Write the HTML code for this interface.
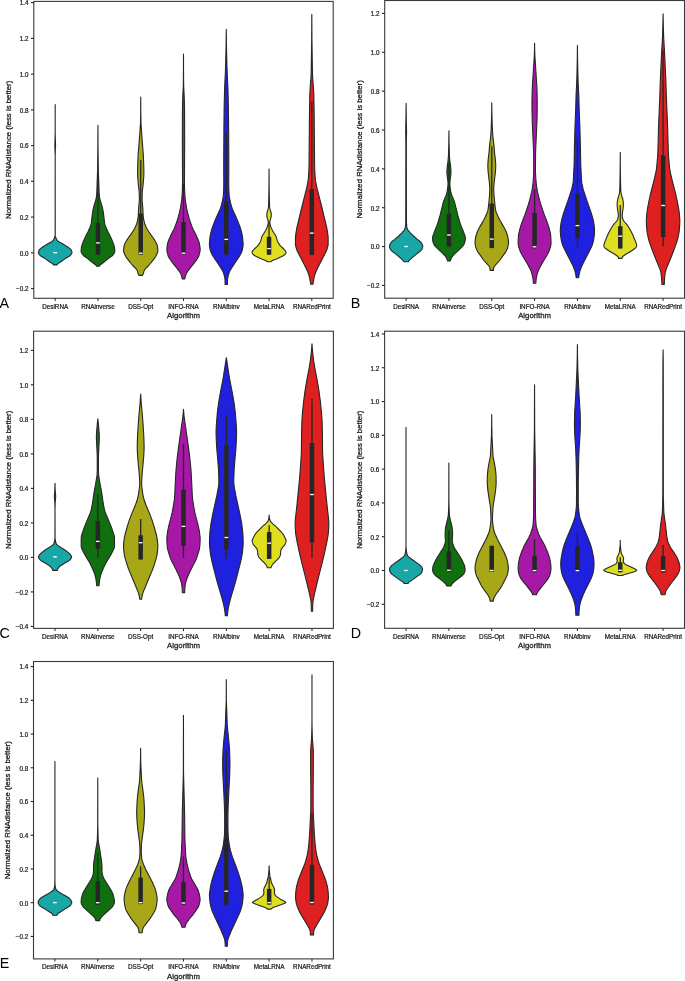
<!DOCTYPE html>
<html><head><meta charset="utf-8"><style>
html,body{margin:0;padding:0;background:#fff;}
svg{display:block;}
text{font-family:"Liberation Sans",sans-serif;fill:#1a1a1a;}
svg{will-change:transform;}
.tk{font-size:6.3px;stroke:#1a1a1a;stroke-width:0.22px;}
.al{font-size:7.8px;stroke:#1a1a1a;stroke-width:0.28px;}
.lt{font-size:14.3px;fill:#000;}
</style></head><body>
<svg width="685" height="981" viewBox="0 0 685 981">
<rect width="685" height="981" fill="#fff"/>
<path d="M55.19 104.6 55.19 133.8 55.54 145 55.19 155.8 55.22 236.2 55.64 237 56.09 238.2 56.64 239.4 57.1 240.2 57.72 241 58.8 241.8 62.52 243.8 66.51 246.2 67.72 247 69.9 248.6 70.76 249.4 71.04 249.8 71.75 251.4 71.95 252.2 71.98 252.6 71.95 253 71.6 253.8 70.97 254.6 69.83 255.8 68.73 256.6 65.24 258.6 60.14 262.2 58.25 263.4 57.71 263.8 57.31 264.2 56.94 264.9 53.44 264.9 53.06 264.2 52.66 263.8 52.12 263.4 50.23 262.2 45.13 258.6 41.64 256.6 40.54 255.8 39.4 254.6 38.77 253.8 38.42 253 38.39 252.6 38.42 252.2 38.62 251.4 39.34 249.8 39.61 249.4 40.47 248.6 42.65 247 43.86 246.2 47.85 243.8 51.57 241.8 52.65 241 53.27 240.2 53.73 239.4 54.28 238.2 54.74 237 55.15 236.2 55.19 155.8 54.84 145 55.18 133.8 55.19 104.6Z" fill="#18a7a7" stroke="#262626" stroke-width="1.1" stroke-linejoin="round"/>
<rect x="53.34" y="252.05" width="3.7" height="1.3" fill="#ffffff"/>
<path d="M97.96 125.2 98.05 148 98.32 170.8 98.7 180 99.03 190.8 99.23 194 99.5 196.8 100.1 200 101.52 204.4 102.4 207.6 102.96 210 103.51 213.6 104.45 222 104.64 223.2 104.93 224.4 105.61 226.4 106.92 229.6 107.67 231.2 109.52 234.8 111.41 238.8 112.27 240.8 113.69 244.4 114.21 246 114.47 247.2 114.72 249.6 114.8 251.2 114.75 252 114.45 252.8 113.72 254 112.81 255.2 111.91 256 108.59 258.4 103.11 262.8 100.41 264.8 99.63 265.6 99.31 266.3 96.61 266.3 96.28 265.6 95.51 264.8 92.81 262.8 87.32 258.4 84.01 256 83.11 255.2 82.19 254 81.46 252.8 81.17 252 81.11 251.2 81.19 249.6 81.45 247.2 81.7 246 82.23 244.4 83.64 240.8 84.51 238.8 86.4 234.8 88.24 231.2 89 229.6 90.3 226.4 90.98 224.4 91.27 223.2 91.46 222 92.4 213.6 92.96 210 93.52 207.6 94.39 204.4 95.81 200 96.41 196.8 96.69 194 96.89 190.8 97.21 180 97.59 170.8 97.86 148 97.96 125.2Z" fill="#107010" stroke="#262626" stroke-width="1.1" stroke-linejoin="round"/>
<line x1="97.96" y1="177" x2="97.96" y2="254.6" stroke="#262626" stroke-width="1.3"/>
<rect x="95.71" y="223" width="4.5" height="31.6" fill="#262626"/>
<rect x="96.11" y="242.25" width="3.7" height="1.3" fill="#ffffff"/>
<path d="M140.73 97.1 140.8 112.7 140.96 122.7 141.62 133.1 143.31 154.7 143.6 161.1 143.83 168.3 143.88 173.1 143.76 176.7 143.11 184.7 142.33 191.1 142.09 197.9 142.15 201.1 142.81 207.9 143.13 214.7 143.32 217.1 143.78 219.9 144.56 223.1 145.27 225.1 146.58 227.9 147.42 229.5 148.68 231.5 151.13 235.1 153.47 238.3 154.55 239.9 156.13 242.7 156.72 243.9 157.16 245.1 157.41 246.3 157.72 248.3 157.88 250.3 157.79 251.5 157.46 252.7 156.23 255.5 155.58 256.7 154.77 257.9 152.68 260.7 150.43 263.5 148.71 265.5 145.86 268.3 144.84 269.5 144.38 270.3 144.05 271.1 143.05 274.3 142.58 275.4 138.88 275.4 138.41 274.3 137.41 271.1 137.08 270.3 136.62 269.5 135.6 268.3 132.75 265.5 131.03 263.5 128.78 260.7 126.69 257.9 125.88 256.7 125.22 255.5 124 252.7 123.67 251.5 123.58 250.3 123.73 248.3 124.05 246.3 124.3 245.1 124.73 243.9 125.33 242.7 126.91 239.9 127.99 238.3 130.33 235.1 132.78 231.5 134.03 229.5 134.88 227.9 136.19 225.1 136.9 223.1 137.68 219.9 138.14 217.1 138.33 214.7 138.65 207.9 139.3 201.1 139.37 197.9 139.12 191.1 138.34 184.7 137.7 176.7 137.58 173.1 137.63 168.3 137.86 161.1 138.15 154.7 139.83 133.1 140.5 122.7 140.66 112.7 140.73 97.1Z" fill="#a7a718" stroke="#262626" stroke-width="1.1" stroke-linejoin="round"/>
<line x1="140.73" y1="160" x2="140.73" y2="254.6" stroke="#262626" stroke-width="1.3"/>
<rect x="138.48" y="213.5" width="4.5" height="41.1" fill="#262626"/>
<rect x="138.88" y="252.55" width="3.7" height="1.3" fill="#ffffff"/>
<path d="M183.5 54 183.54 70.4 183.66 85.6 184.14 94.8 184.42 103.2 184.54 108.8 184.65 142 184.45 182.8 184.6 189.2 185.01 196.8 185.57 201.6 186.58 208 187.56 212.4 189.01 218 190.52 222.8 192.38 227.6 193.45 230 196.33 235.6 197.94 239.2 198.73 241.2 199.22 242.8 199.76 245.6 200.04 247.6 200.15 249.6 200.02 251.2 199.62 253.2 198.82 256 198.27 257.2 197.3 258.8 194.75 262.4 190.88 267.2 188.09 270.8 186.97 272.4 186.32 273.6 185.58 275.6 185.12 277.2 184.85 278.9 182.15 278.9 181.88 277.2 181.42 275.6 180.68 273.6 180.03 272.4 178.91 270.8 176.12 267.2 172.25 262.4 169.7 258.8 168.73 257.2 168.18 256 167.38 253.2 166.98 251.2 166.85 249.6 166.96 247.6 167.24 245.6 167.78 242.8 168.27 241.2 169.06 239.2 170.67 235.6 173.55 230 174.62 227.6 176.48 222.8 177.99 218 179.44 212.4 180.42 208 181.43 201.6 181.99 196.8 182.4 189.2 182.55 182.8 182.35 142 182.46 108.8 182.58 103.2 182.86 94.8 183.34 85.6 183.46 70.4 183.5 54Z" fill="#a718a7" stroke="#262626" stroke-width="1.1" stroke-linejoin="round"/>
<line x1="183.5" y1="184" x2="183.5" y2="254.4" stroke="#262626" stroke-width="1.3"/>
<rect x="181.25" y="222" width="4.5" height="32.4" fill="#262626"/>
<rect x="181.65" y="252.55" width="3.7" height="1.3" fill="#ffffff"/>
<path d="M226.27 29.4 226.45 45 226.93 65.8 227.15 71.8 227.95 88.6 228.4 108.2 228.63 127.4 228.79 156.2 228.82 168.2 228.73 183.8 228.85 189.4 229.1 195 229.48 197.8 230.5 202.6 231.23 205.4 232.11 208.2 233.02 210.6 235.69 216.2 237.73 221 240.01 227 241.06 230.2 242.02 234.2 242.54 237 242.98 241.4 243.12 244.6 242.98 246.6 242.53 249 241.92 251.4 241.25 253 240.37 254.6 237.67 259 234.1 264.2 230.72 269.4 229.82 271 229.28 272.2 228.31 275.4 227.71 278.2 227.52 280.2 227.42 284.4 225.12 284.4 225.03 280.2 224.83 278.2 224.23 275.4 223.26 272.2 222.73 271 221.82 269.4 218.45 264.2 214.87 259 212.17 254.6 211.3 253 210.63 251.4 210.01 249 209.57 246.6 209.42 244.6 209.56 241.4 210.01 237 210.52 234.2 211.49 230.2 212.53 227 214.81 221 216.85 216.2 219.53 210.6 220.43 208.2 221.31 205.4 222.04 202.6 223.06 197.8 223.44 195 223.69 189.4 223.81 183.8 223.72 168.2 223.75 156.2 223.92 127.4 224.14 108.2 224.6 88.6 225.39 71.8 225.61 65.8 226.1 45 226.27 29.4Z" fill="#2020df" stroke="#262626" stroke-width="1.1" stroke-linejoin="round"/>
<line x1="226.27" y1="133" x2="226.27" y2="254.6" stroke="#262626" stroke-width="1.3"/>
<rect x="224.02" y="201.6" width="4.5" height="53" fill="#262626"/>
<rect x="224.42" y="238.75" width="3.7" height="1.3" fill="#ffffff"/>
<path d="M269.04 169 269.16 188.6 269.51 205.4 269.69 207.4 270.01 209.4 270.85 211.8 271.16 213.4 271.29 214.6 271.2 216.2 270.85 218.2 270.2 220.2 269.82 221.8 269.84 223 270.11 224.6 270.44 225.8 271.03 227.4 272.13 229.8 273.42 232.2 275.31 235 275.95 236.2 276.36 237.4 277.11 240.2 277.59 241.4 278.2 242.6 279.19 244.2 280.39 245.8 283.8 249 285.11 250.6 285.71 251.4 285.92 251.8 286.06 252.2 286.09 252.6 285.99 253 285.47 253.8 284.23 255 283.22 255.8 281.76 256.6 276.42 259 272.44 260.6 271.66 261 271.09 261.4 270.79 261.8 267.29 261.8 266.99 261.4 266.43 261 265.65 260.6 261.66 259 256.33 256.6 254.86 255.8 253.86 255 252.62 253.8 252.1 253 252 252.6 252.03 252.2 252.16 251.8 252.38 251.4 252.97 250.6 254.29 249 257.7 245.8 258.9 244.2 259.89 242.6 260.5 241.4 260.97 240.2 261.72 237.4 262.13 236.2 262.78 235 264.66 232.2 265.96 229.8 267.05 227.4 267.65 225.8 267.97 224.6 268.24 223 268.26 221.8 267.89 220.2 267.23 218.2 266.89 216.2 266.8 214.6 266.93 213.4 267.24 211.8 268.07 209.4 268.39 207.4 268.58 205.4 268.93 188.6 269.04 169Z" fill="#dfdf20" stroke="#262626" stroke-width="1.1" stroke-linejoin="round"/>
<line x1="269.04" y1="221.5" x2="269.04" y2="254.7" stroke="#262626" stroke-width="1.3"/>
<rect x="266.79" y="236.8" width="4.5" height="17.9" fill="#262626"/>
<rect x="267.19" y="247.95" width="3.7" height="1.3" fill="#ffffff"/>
<path d="M311.81 14.3 311.97 41.9 312.43 71.1 312.64 77.1 313.59 89.9 313.86 95.5 314.19 116.7 314.57 164.7 314.76 170.7 315.13 176.7 315.36 179.5 315.65 181.5 317.11 188.7 321.39 205.5 326.72 227.5 327.1 229.5 327.84 234.3 328.07 236.3 328.16 238.3 328.15 244.7 327.89 246.3 327.3 248.3 326.48 250.7 325.79 252.3 322.77 257.9 319.27 264.7 316.61 270.3 315.56 272.7 314.83 274.7 314.19 277.1 313.55 280.3 312.96 284.2 310.66 284.2 310.07 280.3 309.43 277.1 308.8 274.7 308.07 272.7 307.02 270.3 304.36 264.7 300.86 257.9 297.84 252.3 297.15 250.7 296.33 248.3 295.74 246.3 295.48 244.7 295.47 238.3 295.56 236.3 295.79 234.3 296.53 229.5 296.91 227.5 302.24 205.5 306.52 188.7 307.98 181.5 308.27 179.5 308.5 176.7 308.87 170.7 309.06 164.7 309.44 116.7 309.77 95.5 310.04 89.9 310.99 77.1 311.2 71.1 311.66 41.9 311.81 14.3Z" fill="#df2020" stroke="#262626" stroke-width="1.1" stroke-linejoin="round"/>
<line x1="311.81" y1="101.3" x2="311.81" y2="254.9" stroke="#262626" stroke-width="1.3"/>
<rect x="309.56" y="189.2" width="4.5" height="65.7" fill="#262626"/>
<rect x="309.96" y="232.45" width="3.7" height="1.3" fill="#ffffff"/>
<rect x="33.8" y="1.4" width="299.4" height="296.9" fill="none" stroke="#3a3a3a" stroke-width="1.1"/>
<line x1="31" y1="288.6" x2="33.8" y2="288.6" stroke="#222" stroke-width="1.1"/>
<text x="28.5" y="291.4" class="tk" text-anchor="end">−0.2</text>
<line x1="31" y1="252.85" x2="33.8" y2="252.85" stroke="#222" stroke-width="1.1"/>
<text x="28.5" y="255.65" class="tk" text-anchor="end">0.0</text>
<line x1="31" y1="217.1" x2="33.8" y2="217.1" stroke="#222" stroke-width="1.1"/>
<text x="28.5" y="219.9" class="tk" text-anchor="end">0.2</text>
<line x1="31" y1="181.35" x2="33.8" y2="181.35" stroke="#222" stroke-width="1.1"/>
<text x="28.5" y="184.15" class="tk" text-anchor="end">0.4</text>
<line x1="31" y1="145.6" x2="33.8" y2="145.6" stroke="#222" stroke-width="1.1"/>
<text x="28.5" y="148.4" class="tk" text-anchor="end">0.6</text>
<line x1="31" y1="109.85" x2="33.8" y2="109.85" stroke="#222" stroke-width="1.1"/>
<text x="28.5" y="112.65" class="tk" text-anchor="end">0.8</text>
<line x1="31" y1="74.1" x2="33.8" y2="74.1" stroke="#222" stroke-width="1.1"/>
<text x="28.5" y="76.9" class="tk" text-anchor="end">1.0</text>
<line x1="31" y1="38.35" x2="33.8" y2="38.35" stroke="#222" stroke-width="1.1"/>
<text x="28.5" y="41.15" class="tk" text-anchor="end">1.2</text>
<line x1="31" y1="2.6" x2="33.8" y2="2.6" stroke="#222" stroke-width="1.1"/>
<text x="28.5" y="5.4" class="tk" text-anchor="end">1.4</text>
<line x1="55.19" y1="298.3" x2="55.19" y2="300.9" stroke="#222" stroke-width="1.0"/>
<text x="55.19" y="308.7" class="tk" text-anchor="middle">DesiRNA</text>
<line x1="97.96" y1="298.3" x2="97.96" y2="300.9" stroke="#222" stroke-width="1.0"/>
<text x="97.96" y="308.7" class="tk" text-anchor="middle">RNAinverse</text>
<line x1="140.73" y1="298.3" x2="140.73" y2="300.9" stroke="#222" stroke-width="1.0"/>
<text x="140.73" y="308.7" class="tk" text-anchor="middle">DSS-Opt</text>
<line x1="183.5" y1="298.3" x2="183.5" y2="300.9" stroke="#222" stroke-width="1.0"/>
<text x="183.5" y="308.7" class="tk" text-anchor="middle">INFO-RNA</text>
<line x1="226.27" y1="298.3" x2="226.27" y2="300.9" stroke="#222" stroke-width="1.0"/>
<text x="226.27" y="308.7" class="tk" text-anchor="middle">RNAfbinv</text>
<line x1="269.04" y1="298.3" x2="269.04" y2="300.9" stroke="#222" stroke-width="1.0"/>
<text x="269.04" y="308.7" class="tk" text-anchor="middle">MetaLRNA</text>
<line x1="311.81" y1="298.3" x2="311.81" y2="300.9" stroke="#222" stroke-width="1.0"/>
<text x="311.81" y="308.7" class="tk" text-anchor="middle">RNARedPrint</text>
<text x="183.5" y="318.1" class="al" text-anchor="middle">Algorithm</text>
<text transform="translate(10.7 149.85) rotate(-90)" class="al" text-anchor="middle">Normalized RNAdistance (less is better)</text>
<text x="-0.5" y="307.5" class="lt">A</text>
<path d="M406.11 103.2 406.3 119.2 406.56 131.6 406.36 140 406.4 196.8 406.47 222.4 406.56 224.4 406.73 226.4 406.94 227.6 407.26 228.8 407.92 230 408.83 231.2 410.54 233.2 413.49 236 417.72 239.6 419.8 241.2 420.72 242 421.36 242.8 422.24 244.4 422.67 245.6 422.76 246.4 422.67 247.2 422.41 248 421.83 249.2 421.07 250.4 420.22 251.2 416.94 253.6 410.79 258.8 409.94 259.6 408.85 260.8 408.57 261.2 408.36 261.7 403.86 261.7 403.66 261.2 403.38 260.8 402.29 259.6 401.44 258.8 395.29 253.6 392.01 251.2 391.16 250.4 390.4 249.2 389.81 248 389.56 247.2 389.46 246.4 389.56 245.6 389.99 244.4 390.86 242.8 391.51 242 392.42 241.2 394.51 239.6 398.74 236 401.69 233.2 403.4 231.2 404.31 230 404.96 228.8 405.29 227.6 405.5 226.4 405.67 224.4 405.76 222.4 405.83 196.8 405.86 140 405.67 131.6 405.93 119.2 406.11 103.2Z" fill="#18a7a7" stroke="#262626" stroke-width="1.1" stroke-linejoin="round"/>
<rect x="404.26" y="245.85" width="3.7" height="1.3" fill="#ffffff"/>
<path d="M448.94 130.7 449.07 143.1 449.43 155.9 449.92 161.5 450.58 165.9 450.87 169.1 450.98 171.1 450.98 172.7 450.88 174.3 450.53 177.5 450.03 180.7 449.91 183.1 449.94 185.5 450.39 189.5 450.84 191.9 451.45 194.3 452.06 195.9 453.8 199.9 454.46 201.9 455.11 204.3 457.88 215.5 459.58 221.5 460.79 225.1 462.77 229.9 464.7 235.1 465.17 236.7 465.39 238.3 465.29 239.9 464.95 241.5 464.19 243.9 464.03 244.3 463.55 245.1 462.93 245.9 461.79 247.1 457.69 251.1 454.65 253.9 453.15 255.5 451.74 257.5 451.05 258.7 450.59 259.9 450.39 261 447.49 261 447.29 259.9 446.84 258.7 446.15 257.5 444.74 255.5 443.24 253.9 440.2 251.1 436.1 247.1 434.96 245.9 434.33 245.1 433.86 244.3 433.69 243.9 432.93 241.5 432.6 239.9 432.5 238.3 432.71 236.7 433.19 235.1 435.12 229.9 437.09 225.1 438.3 221.5 440.01 215.5 442.77 204.3 443.42 201.9 444.08 199.9 445.83 195.9 446.43 194.3 447.04 191.9 447.49 189.5 447.94 185.5 447.98 183.1 447.85 180.7 447.35 177.5 447.01 174.3 446.91 172.7 446.91 171.1 447.02 169.1 447.3 165.9 447.97 161.5 448.45 155.9 448.82 143.1 448.94 130.7Z" fill="#107010" stroke="#262626" stroke-width="1.1" stroke-linejoin="round"/>
<line x1="448.94" y1="163.4" x2="448.94" y2="246.5" stroke="#262626" stroke-width="1.3"/>
<rect x="446.69" y="213.6" width="4.5" height="32.9" fill="#262626"/>
<rect x="447.09" y="234.35" width="3.7" height="1.3" fill="#ffffff"/>
<path d="M491.77 102.9 491.83 109.7 492 117.7 492.27 126.5 492.58 132.5 492.94 137.3 493.91 144.9 494.64 153.7 495.36 159.3 495.69 164.5 495.69 167.7 495.38 172.5 494.16 182.5 493.83 186.5 493.72 188.9 493.77 191.3 494.04 195.7 494.7 202.9 495.14 206.9 495.48 209.3 495.79 210.9 496.17 212.1 496.67 213.3 498.28 216.9 499.68 219.7 500.96 222.1 503.31 226.1 505 229.3 505.94 231.3 506.72 233.3 507.41 235.3 507.8 236.9 508.33 240.1 508.52 242.5 508.5 243.3 508.36 244.5 507.63 247.7 507.04 249.3 505.87 251.7 505.1 252.9 502.65 256.1 500.51 259.3 499.62 260.5 496.67 263.7 494.28 266.5 493.84 267.3 493.72 267.7 493.48 269.3 493.42 270.4 490.12 270.4 490.06 269.3 489.82 267.7 489.71 267.3 489.27 266.5 486.87 263.7 483.92 260.5 483.03 259.3 480.89 256.1 478.44 252.9 477.68 251.7 476.5 249.3 475.91 247.7 475.18 244.5 475.04 243.3 475.02 242.5 475.21 240.1 475.74 236.9 476.14 235.3 476.82 233.3 477.61 231.3 478.55 229.3 480.24 226.1 482.58 222.1 483.86 219.7 485.26 216.9 486.88 213.3 487.37 212.1 487.75 210.9 488.07 209.3 488.4 206.9 488.84 202.9 489.51 195.7 489.77 191.3 489.82 188.9 489.71 186.5 489.39 182.5 488.16 172.5 487.86 167.7 487.85 164.5 488.18 159.3 488.9 153.7 489.63 144.9 490.6 137.3 490.97 132.5 491.27 126.5 491.54 117.7 491.72 109.7 491.77 102.9Z" fill="#a7a718" stroke="#262626" stroke-width="1.1" stroke-linejoin="round"/>
<line x1="491.77" y1="146.6" x2="491.77" y2="248.1" stroke="#262626" stroke-width="1.3"/>
<rect x="489.52" y="203.5" width="4.5" height="44.6" fill="#262626"/>
<rect x="489.92" y="238.45" width="3.7" height="1.3" fill="#ffffff"/>
<path d="M534.6 43.3 534.67 48.9 534.9 56.1 536.86 86.5 537.1 94.5 537.23 101.7 537.21 110.5 536.9 123.3 535.72 148.5 535.56 153.7 535.46 171.3 535.58 174.5 536.03 181.3 536.47 185.7 537.18 190.1 538.09 194.5 539.54 200.1 540.98 204.9 542.82 210.5 544.38 214.9 546.53 220.5 548.36 225.7 549.09 228.1 549.91 231.3 550.44 233.7 550.72 235.7 550.96 239.7 551.05 242.9 550.99 244.5 550.61 246.5 549.87 248.9 549.18 250.9 548.68 252.1 547.4 254.5 541.43 264.5 539.13 268.9 538.06 271.3 537.64 272.5 537.19 274.1 536.45 277.3 536.09 279.7 535.85 283.2 533.35 283.2 533.11 279.7 532.75 277.3 532.01 274.1 531.56 272.5 531.14 271.3 530.07 268.9 527.77 264.5 521.8 254.5 520.52 252.1 520.02 250.9 519.33 248.9 518.59 246.5 518.21 244.5 518.15 242.9 518.24 239.7 518.48 235.7 518.76 233.7 519.29 231.3 520.11 228.1 520.84 225.7 522.67 220.5 524.82 214.9 526.38 210.5 528.22 204.9 529.66 200.1 531.11 194.5 532.02 190.1 532.73 185.7 533.17 181.3 533.62 174.5 533.74 171.3 533.64 153.7 533.48 148.5 532.3 123.3 531.99 110.5 531.97 101.7 532.1 94.5 532.34 86.5 534.3 56.1 534.53 48.9 534.6 43.3Z" fill="#a718a7" stroke="#262626" stroke-width="1.1" stroke-linejoin="round"/>
<line x1="534.6" y1="189" x2="534.6" y2="248.3" stroke="#262626" stroke-width="1.3"/>
<rect x="532.35" y="212.8" width="4.5" height="35.5" fill="#262626"/>
<rect x="532.75" y="246.15" width="3.7" height="1.3" fill="#ffffff"/>
<path d="M577.43 45.4 577.58 59.4 577.94 76.2 578.23 84.2 578.76 94.6 579.19 109.8 579.85 126.2 580.41 147 580.75 164.6 581.3 176.6 581.63 181.4 581.81 183 582.18 185 582.93 188.2 583.37 189.8 586.75 200.2 590.72 211.4 592 215.4 592.68 217.8 593.52 221.4 593.96 223.8 594.42 227.8 594.58 230.6 594.43 233.8 593.92 238.2 593.3 241.4 592.54 244.2 591.75 246.2 589.71 250.6 584.28 261 582.28 265 581.38 267 580.33 269.8 579.73 271.8 579.05 275 578.68 277.8 576.18 277.8 575.81 275 575.13 271.8 574.53 269.8 573.48 267 572.58 265 570.58 261 565.14 250.6 563.11 246.2 562.32 244.2 561.55 241.4 560.94 238.2 560.43 233.8 560.28 230.6 560.44 227.8 560.9 223.8 561.34 221.4 562.18 217.8 562.86 215.4 564.14 211.4 568.11 200.2 571.48 189.8 571.93 188.2 572.68 185 573.04 183 573.23 181.4 573.56 176.6 574.11 164.6 574.44 147 575.01 126.2 575.67 109.8 576.09 94.6 576.63 84.2 576.92 76.2 577.28 59.4 577.43 45.4Z" fill="#2020df" stroke="#262626" stroke-width="1.1" stroke-linejoin="round"/>
<line x1="577.43" y1="137.3" x2="577.43" y2="247.3" stroke="#262626" stroke-width="1.3"/>
<rect x="575.18" y="193.8" width="4.5" height="44.2" fill="#262626"/>
<rect x="575.58" y="224.95" width="3.7" height="1.3" fill="#ffffff"/>
<path d="M620.26 152.4 620.3 163.2 620.43 174.8 620.63 186 620.82 190.8 620.95 192.4 621.17 193.6 621.67 195.6 622.45 198 622.75 199.2 623.26 202 623.4 203.6 623.37 205.2 623.2 207.2 622.93 209.6 622.48 212.4 622.27 214.4 622.22 216 622.36 217.2 622.73 218.8 623.26 220 623.7 220.8 624.61 222 626.75 224.4 627.9 226 629.92 229.2 631.65 232.4 632.96 235.2 635.88 242.4 636.26 243.6 636.55 244.8 636.71 246 636.63 246.4 636.43 246.8 635.89 247.6 635.52 248 634.56 248.8 630.99 251.2 626.14 254 623.29 256 622.47 256.8 622.24 257.2 622.04 258 622.01 258.4 618.51 258.4 618.47 258 618.27 257.2 618.05 256.8 617.23 256 614.37 254 609.52 251.2 605.95 248.8 605 248 604.63 247.6 604.09 246.8 603.89 246.4 603.81 246 603.96 244.8 604.26 243.6 604.64 242.4 607.56 235.2 608.86 232.4 610.59 229.2 612.61 226 613.77 224.4 615.9 222 616.82 220.8 617.26 220 617.78 218.8 618.15 217.2 618.3 216 618.25 214.4 618.04 212.4 617.58 209.6 617.31 207.2 617.15 205.2 617.11 203.6 617.25 202 617.77 199.2 618.06 198 618.85 195.6 619.34 193.6 619.57 192.4 619.69 190.8 619.89 186 620.08 174.8 620.21 163.2 620.26 152.4Z" fill="#dfdf20" stroke="#262626" stroke-width="1.1" stroke-linejoin="round"/>
<line x1="620.26" y1="205.1" x2="620.26" y2="248.5" stroke="#262626" stroke-width="1.3"/>
<rect x="618.01" y="226.2" width="4.5" height="22.3" fill="#262626"/>
<rect x="618.41" y="235.55" width="3.7" height="1.3" fill="#ffffff"/>
<path d="M663.09 13.8 663.3 25 663.64 36.2 663.84 40.6 664.55 52.2 665.78 78.6 666.4 97.4 667.54 124.2 668.29 151.4 668.43 154.6 668.67 157.8 669.49 167 669.84 169.8 670.18 171.8 672.55 181.8 675.94 195 677.24 201 678.52 207.8 679.02 211 679.49 215.4 679.75 218.6 679.84 221 679.69 225.4 679.23 231 678.73 234.2 677.76 238.6 677.22 240.6 676.58 242.6 674.02 249.8 671.52 256.2 666.43 268.6 665.6 271 665.17 273 664.77 276.2 664.43 280.6 664.24 284.5 661.94 284.5 661.75 280.6 661.4 276.2 661 273 660.57 271 659.74 268.6 654.65 256.2 652.15 249.8 649.59 242.6 648.95 240.6 648.41 238.6 647.45 234.2 646.94 231 646.48 225.4 646.34 221 646.42 218.6 646.68 215.4 647.15 211 647.65 207.8 648.93 201 650.24 195 653.62 181.8 655.99 171.8 656.34 169.8 656.68 167 657.51 157.8 657.74 154.6 657.89 151.4 658.64 124.2 659.77 97.4 660.39 78.6 661.62 52.2 662.33 40.6 662.53 36.2 662.87 25 663.09 13.8Z" fill="#df2020" stroke="#262626" stroke-width="1.1" stroke-linejoin="round"/>
<line x1="663.09" y1="50.5" x2="663.09" y2="246.2" stroke="#262626" stroke-width="1.3"/>
<rect x="660.84" y="155.4" width="4.5" height="81.6" fill="#262626"/>
<rect x="661.24" y="204.85" width="3.7" height="1.3" fill="#ffffff"/>
<rect x="384.7" y="0.5" width="299.8" height="297.7" fill="none" stroke="#3a3a3a" stroke-width="1.1"/>
<line x1="381.9" y1="285.44" x2="384.7" y2="285.44" stroke="#222" stroke-width="1.1"/>
<text x="379.4" y="288.24" class="tk" text-anchor="end">−0.2</text>
<line x1="381.9" y1="246.58" x2="384.7" y2="246.58" stroke="#222" stroke-width="1.1"/>
<text x="379.4" y="249.38" class="tk" text-anchor="end">0.0</text>
<line x1="381.9" y1="207.72" x2="384.7" y2="207.72" stroke="#222" stroke-width="1.1"/>
<text x="379.4" y="210.52" class="tk" text-anchor="end">0.2</text>
<line x1="381.9" y1="168.86" x2="384.7" y2="168.86" stroke="#222" stroke-width="1.1"/>
<text x="379.4" y="171.66" class="tk" text-anchor="end">0.4</text>
<line x1="381.9" y1="130" x2="384.7" y2="130" stroke="#222" stroke-width="1.1"/>
<text x="379.4" y="132.8" class="tk" text-anchor="end">0.6</text>
<line x1="381.9" y1="91.14" x2="384.7" y2="91.14" stroke="#222" stroke-width="1.1"/>
<text x="379.4" y="93.94" class="tk" text-anchor="end">0.8</text>
<line x1="381.9" y1="52.28" x2="384.7" y2="52.28" stroke="#222" stroke-width="1.1"/>
<text x="379.4" y="55.08" class="tk" text-anchor="end">1.0</text>
<line x1="381.9" y1="13.42" x2="384.7" y2="13.42" stroke="#222" stroke-width="1.1"/>
<text x="379.4" y="16.22" class="tk" text-anchor="end">1.2</text>
<line x1="406.11" y1="298.2" x2="406.11" y2="300.8" stroke="#222" stroke-width="1.0"/>
<text x="406.11" y="308.6" class="tk" text-anchor="middle">DesiRNA</text>
<line x1="448.94" y1="298.2" x2="448.94" y2="300.8" stroke="#222" stroke-width="1.0"/>
<text x="448.94" y="308.6" class="tk" text-anchor="middle">RNAinverse</text>
<line x1="491.77" y1="298.2" x2="491.77" y2="300.8" stroke="#222" stroke-width="1.0"/>
<text x="491.77" y="308.6" class="tk" text-anchor="middle">DSS-Opt</text>
<line x1="534.6" y1="298.2" x2="534.6" y2="300.8" stroke="#222" stroke-width="1.0"/>
<text x="534.6" y="308.6" class="tk" text-anchor="middle">INFO-RNA</text>
<line x1="577.43" y1="298.2" x2="577.43" y2="300.8" stroke="#222" stroke-width="1.0"/>
<text x="577.43" y="308.6" class="tk" text-anchor="middle">RNAfbinv</text>
<line x1="620.26" y1="298.2" x2="620.26" y2="300.8" stroke="#222" stroke-width="1.0"/>
<text x="620.26" y="308.6" class="tk" text-anchor="middle">MetaLRNA</text>
<line x1="663.09" y1="298.2" x2="663.09" y2="300.8" stroke="#222" stroke-width="1.0"/>
<text x="663.09" y="308.6" class="tk" text-anchor="middle">RNARedPrint</text>
<text x="534.6" y="318" class="al" text-anchor="middle">Algorithm</text>
<text transform="translate(361.6 149.35) rotate(-90)" class="al" text-anchor="middle">Normalized RNAdistance (less is better)</text>
<text x="350.8" y="307.5" class="lt">B</text>
<path d="M55.01 483.2 55.18 490.4 55.6 494.8 55.66 496.4 55.6 498 55.17 502.8 55.01 509.6 55.06 538 55.15 539.2 55.55 541.6 55.88 542.8 56.36 544 56.63 544.4 57.02 544.8 58.07 545.6 64.87 550 68.09 552.4 69.42 553.6 70.77 555.2 71.31 556 71.48 556.4 71.56 556.8 71.54 557.2 71.43 557.6 71.03 558.4 70.14 559.6 69.79 560 69.31 560.4 68.08 561.2 65.25 562.8 61.3 565.2 60.19 566 59.76 566.4 58.7 567.6 57.87 568.8 57.52 569.6 57.36 570.4 52.66 570.4 52.51 569.6 52.16 568.8 51.33 567.6 50.26 566.4 49.84 566 48.73 565.2 44.78 562.8 41.95 561.2 40.72 560.4 40.24 560 39.89 559.6 39 558.4 38.6 557.6 38.49 557.2 38.47 556.8 38.55 556.4 38.72 556 39.26 555.2 40.6 553.6 41.94 552.4 45.15 550 51.96 545.6 53.01 544.8 53.4 544.4 53.66 544 54.15 542.8 54.47 541.6 54.88 539.2 54.96 538 55.01 509.6 54.86 502.8 54.43 498 54.36 496.4 54.43 494.8 54.85 490.4 55.01 483.2Z" fill="#18a7a7" stroke="#262626" stroke-width="1.1" stroke-linejoin="round"/>
<rect x="53.16" y="556.25" width="3.7" height="1.3" fill="#ffffff"/>
<path d="M97.84 418.7 98.36 423.5 98.94 430.3 99.19 433.9 99.29 436.7 99.24 439.9 98.57 453.1 98.43 459.9 98.43 469.1 98.6 474.3 98.76 475.9 100.01 483.5 101.64 492.3 102.77 500.3 103.42 504.3 104.01 507.5 104.64 510.3 105.09 511.9 105.68 513.5 110.08 523.9 111.63 527.9 113.91 534.7 114.35 536.7 114.49 538.3 114.49 545.9 114.35 547.1 114.02 548.3 113.17 550.3 111.17 554.3 106.99 561.1 105.4 563.9 103.87 567.1 101.67 572.3 100.69 575.1 99.82 578.7 99.29 582.3 98.99 585.8 96.69 585.8 96.4 582.3 95.87 578.7 94.99 575.1 94.01 572.3 91.82 567.1 90.29 563.9 88.7 561.1 84.51 554.3 82.51 550.3 81.67 548.3 81.33 547.1 81.19 545.9 81.19 538.3 81.33 536.7 81.78 534.7 84.06 527.9 85.61 523.9 90 513.5 90.59 511.9 91.05 510.3 91.68 507.5 92.26 504.3 92.91 500.3 94.04 492.3 95.68 483.5 96.92 475.9 97.09 474.3 97.25 469.1 97.26 459.9 97.12 453.1 96.45 439.9 96.4 436.7 96.49 433.9 96.74 430.3 97.32 423.5 97.84 418.7Z" fill="#107010" stroke="#262626" stroke-width="1.1" stroke-linejoin="round"/>
<line x1="97.84" y1="494" x2="97.84" y2="557.7" stroke="#262626" stroke-width="1.3"/>
<rect x="95.59" y="521" width="4.5" height="27.9" fill="#262626"/>
<rect x="95.99" y="540.75" width="3.7" height="1.3" fill="#ffffff"/>
<path d="M140.67 394 141.2 402.4 142.52 416.8 143.05 424 143.83 436.8 144.11 446 144.06 450.4 143.64 457.2 142.89 466 142.21 472.8 141.75 479.6 141.62 484 141.82 486.8 142.43 491.6 142.88 494.4 143.53 497.6 144.18 500 145.82 504.8 149.9 514.4 151.86 519.6 153.81 525.6 156.15 534 156.81 536.8 157.34 540.4 157.69 543.6 157.82 546.4 157.68 549.6 157.25 553.2 156.74 556.4 155.99 559.2 154.12 565.2 152.56 569.6 147.68 581.2 143.09 592.4 142.72 593.6 142.14 596 141.83 597.6 141.62 599.2 139.72 599.2 139.51 597.6 139.2 596 138.62 593.6 138.25 592.4 133.67 581.2 128.79 569.6 127.23 565.2 125.35 559.2 124.6 556.4 124.1 553.2 123.67 549.6 123.52 546.4 123.65 543.6 124.01 540.4 124.54 536.8 125.19 534 127.53 525.6 129.48 519.6 131.44 514.4 135.52 504.8 137.16 500 137.81 497.6 138.46 494.4 138.91 491.6 139.52 486.8 139.72 484 139.6 479.6 139.13 472.8 138.45 466 137.7 457.2 137.28 450.4 137.23 446 137.51 436.8 138.29 424 138.82 416.8 140.14 402.4 140.67 394Z" fill="#a7a718" stroke="#262626" stroke-width="1.1" stroke-linejoin="round"/>
<line x1="140.67" y1="519.1" x2="140.67" y2="559.5" stroke="#262626" stroke-width="1.3"/>
<rect x="138.42" y="535.3" width="4.5" height="24.2" fill="#262626"/>
<rect x="138.82" y="542.05" width="3.7" height="1.3" fill="#ffffff"/>
<path d="M183.5 409.3 183.79 413.3 184.13 416.5 188.68 448.9 189.67 456.9 190.36 463.3 190.86 468.5 191.2 473.3 191.7 482.5 192.31 495.7 192.47 498.1 192.68 500.1 193.95 507.7 194.96 512.9 195.61 515.7 198 524.9 199.06 529.7 199.41 531.7 199.91 535.3 200.08 536.9 200.15 538.5 200.05 542.5 199.74 546.9 199.49 548.5 198.98 550.5 197.44 555.7 196.13 559.3 195.39 560.9 193.5 564.5 191.51 568.5 188.62 574.5 187.75 576.5 186.26 580.5 185.57 582.9 185.04 586.1 184.77 589.3 184.65 592.7 182.35 592.7 182.23 589.3 181.96 586.1 181.43 582.9 180.74 580.5 179.25 576.5 178.38 574.5 175.49 568.5 173.5 564.5 171.61 560.9 170.87 559.3 169.56 555.7 168.02 550.5 167.51 548.5 167.26 546.9 166.95 542.5 166.85 538.5 166.92 536.9 167.09 535.3 167.59 531.7 167.94 529.7 169 524.9 171.39 515.7 172.04 512.9 173.05 507.7 174.32 500.1 174.53 498.1 174.69 495.7 175.3 482.5 175.8 473.3 176.14 468.5 176.64 463.3 177.33 456.9 178.32 448.9 182.87 416.5 183.21 413.3 183.5 409.3Z" fill="#a718a7" stroke="#262626" stroke-width="1.1" stroke-linejoin="round"/>
<line x1="183.5" y1="443.8" x2="183.5" y2="558" stroke="#262626" stroke-width="1.3"/>
<rect x="181.25" y="489.7" width="4.5" height="56.1" fill="#262626"/>
<rect x="181.65" y="525.75" width="3.7" height="1.3" fill="#ffffff"/>
<path d="M226.33 357.7 229.34 377.3 232.85 395.7 234.14 403.3 234.87 408.9 235.44 414.1 236.36 426.1 236.52 429.3 236.58 432.1 236.55 435.3 236.42 439.3 235.92 448.5 234.98 458.9 234.16 469.3 233.81 478.9 233.78 482.5 233.87 484.1 234.3 487.3 235.88 495.7 239.81 513.7 241.08 520.1 241.72 523.7 242.37 528.5 242.78 532.5 243.08 538.1 243.18 542.5 243.14 544.5 243.01 546.5 242.45 552.1 241.94 555.3 240.91 560.5 239.87 564.9 236.09 579.7 235.08 583.3 231.06 596.9 229.64 602.1 228.71 606.1 228.15 608.9 227.66 612.5 227.38 615.6 225.28 615.6 225 612.5 224.51 608.9 223.95 606.1 223.01 602.1 221.6 596.9 217.58 583.3 216.57 579.7 212.78 564.9 211.75 560.5 210.72 555.3 210.21 552.1 209.64 546.5 209.52 544.5 209.48 542.5 209.58 538.1 209.88 532.5 210.29 528.5 210.94 523.7 211.58 520.1 212.84 513.7 216.78 495.7 218.36 487.3 218.79 484.1 218.87 482.5 218.84 478.9 218.5 469.3 217.68 458.9 216.74 448.5 216.24 439.3 216.11 435.3 216.08 432.1 216.14 429.3 216.3 426.1 217.21 414.1 217.78 408.9 218.52 403.3 219.81 395.7 223.31 377.3 226.33 357.7Z" fill="#2020df" stroke="#262626" stroke-width="1.1" stroke-linejoin="round"/>
<line x1="226.33" y1="415.4" x2="226.33" y2="558.2" stroke="#262626" stroke-width="1.3"/>
<rect x="224.08" y="444.9" width="4.5" height="104.4" fill="#262626"/>
<rect x="224.48" y="536.85" width="3.7" height="1.3" fill="#ffffff"/>
<path d="M269.16 515 269.31 517 269.61 519 270.07 520.6 270.5 521.4 271.19 522.2 272.81 523.8 275.59 526.2 277.26 527.8 281.16 531.8 282.23 533 283.34 534.6 284.26 536.2 285.83 539.4 286.06 540.2 286.11 540.6 286.05 541.4 285.88 542.2 285.47 543.4 284.96 544.6 284.36 545.4 282.49 547.4 281.47 549 281.06 549.8 280.82 550.6 280.51 554.2 280.24 555.4 279.82 556.6 279.59 557 278.94 557.8 277.04 559.8 274.99 561.8 272.79 564.2 272.21 565 271.46 566.2 271.13 567 271.01 567.8 267.31 567.8 267.18 567 266.86 566.2 266.11 565 265.52 564.2 263.32 561.8 261.28 559.8 259.37 557.8 258.73 557 258.49 556.6 258.08 555.4 257.81 554.2 257.49 550.6 257.25 549.8 256.84 549 255.83 547.4 253.96 545.4 253.36 544.6 252.84 543.4 252.43 542.2 252.26 541.4 252.21 540.6 252.25 540.2 252.48 539.4 254.05 536.2 254.97 534.6 256.09 533 257.15 531.8 261.06 527.8 262.73 526.2 265.51 523.8 267.13 522.2 267.81 521.4 268.24 520.6 268.7 519 269.01 517 269.16 515Z" fill="#dfdf20" stroke="#262626" stroke-width="1.1" stroke-linejoin="round"/>
<line x1="269.16" y1="525.3" x2="269.16" y2="558.9" stroke="#262626" stroke-width="1.3"/>
<rect x="266.91" y="532.1" width="4.5" height="26.8" fill="#262626"/>
<rect x="267.31" y="542.55" width="3.7" height="1.3" fill="#ffffff"/>
<path d="M311.99 343.8 312.3 348.2 312.73 353 313.74 361.4 314.54 366.6 316.63 377.4 318.13 385.8 318.91 390.6 320.3 401 321.4 411.8 321.89 417.8 322.15 423.4 322.41 433.4 322.57 451 322.79 455.8 323.39 465.4 323.92 472.6 324.6 480.6 326.97 504.6 328.61 519.4 328.77 521.4 328.84 523.4 328.71 527.8 328.31 533.4 327.84 536.6 326.43 544.2 324.69 552.2 323.38 557.8 321.71 564.6 318.84 575.8 314.94 591.8 313.33 599.4 313.01 601.4 312.85 603 312.69 607.4 312.64 611.3 311.34 611.3 311.28 607.4 311.12 603 310.97 601.4 310.64 599.4 309.04 591.8 305.13 575.8 302.26 564.6 300.59 557.8 299.28 552.2 297.54 544.2 296.13 536.6 295.67 533.4 295.26 527.8 295.14 523.4 295.2 521.4 295.36 519.4 297 504.6 299.38 480.6 300.06 472.6 300.58 465.4 301.19 455.8 301.4 451 301.56 433.4 301.83 423.4 302.08 417.8 302.57 411.8 303.68 401 305.06 390.6 305.84 385.8 307.34 377.4 309.43 366.6 310.23 361.4 311.24 353 311.67 348.2 311.99 343.8Z" fill="#df2020" stroke="#262626" stroke-width="1.1" stroke-linejoin="round"/>
<line x1="311.99" y1="398.8" x2="311.99" y2="557.8" stroke="#262626" stroke-width="1.3"/>
<rect x="309.74" y="443.1" width="4.5" height="99.4" fill="#262626"/>
<rect x="310.14" y="493.85" width="3.7" height="1.3" fill="#ffffff"/>
<rect x="33.6" y="331.2" width="299.8" height="297.2" fill="none" stroke="#3a3a3a" stroke-width="1.1"/>
<line x1="30.8" y1="626.42" x2="33.6" y2="626.42" stroke="#222" stroke-width="1.1"/>
<text x="28.3" y="629.22" class="tk" text-anchor="end">−0.4</text>
<line x1="30.8" y1="591.91" x2="33.6" y2="591.91" stroke="#222" stroke-width="1.1"/>
<text x="28.3" y="594.71" class="tk" text-anchor="end">−0.2</text>
<line x1="30.8" y1="557.4" x2="33.6" y2="557.4" stroke="#222" stroke-width="1.1"/>
<text x="28.3" y="560.2" class="tk" text-anchor="end">0.0</text>
<line x1="30.8" y1="522.89" x2="33.6" y2="522.89" stroke="#222" stroke-width="1.1"/>
<text x="28.3" y="525.69" class="tk" text-anchor="end">0.2</text>
<line x1="30.8" y1="488.38" x2="33.6" y2="488.38" stroke="#222" stroke-width="1.1"/>
<text x="28.3" y="491.18" class="tk" text-anchor="end">0.4</text>
<line x1="30.8" y1="453.87" x2="33.6" y2="453.87" stroke="#222" stroke-width="1.1"/>
<text x="28.3" y="456.67" class="tk" text-anchor="end">0.6</text>
<line x1="30.8" y1="419.36" x2="33.6" y2="419.36" stroke="#222" stroke-width="1.1"/>
<text x="28.3" y="422.16" class="tk" text-anchor="end">0.8</text>
<line x1="30.8" y1="384.85" x2="33.6" y2="384.85" stroke="#222" stroke-width="1.1"/>
<text x="28.3" y="387.65" class="tk" text-anchor="end">1.0</text>
<line x1="30.8" y1="350.34" x2="33.6" y2="350.34" stroke="#222" stroke-width="1.1"/>
<text x="28.3" y="353.14" class="tk" text-anchor="end">1.2</text>
<line x1="55.01" y1="628.4" x2="55.01" y2="631" stroke="#222" stroke-width="1.0"/>
<text x="55.01" y="638.8" class="tk" text-anchor="middle">DesiRNA</text>
<line x1="97.84" y1="628.4" x2="97.84" y2="631" stroke="#222" stroke-width="1.0"/>
<text x="97.84" y="638.8" class="tk" text-anchor="middle">RNAinverse</text>
<line x1="140.67" y1="628.4" x2="140.67" y2="631" stroke="#222" stroke-width="1.0"/>
<text x="140.67" y="638.8" class="tk" text-anchor="middle">DSS-Opt</text>
<line x1="183.5" y1="628.4" x2="183.5" y2="631" stroke="#222" stroke-width="1.0"/>
<text x="183.5" y="638.8" class="tk" text-anchor="middle">INFO-RNA</text>
<line x1="226.33" y1="628.4" x2="226.33" y2="631" stroke="#222" stroke-width="1.0"/>
<text x="226.33" y="638.8" class="tk" text-anchor="middle">RNAfbinv</text>
<line x1="269.16" y1="628.4" x2="269.16" y2="631" stroke="#222" stroke-width="1.0"/>
<text x="269.16" y="638.8" class="tk" text-anchor="middle">MetaLRNA</text>
<line x1="311.99" y1="628.4" x2="311.99" y2="631" stroke="#222" stroke-width="1.0"/>
<text x="311.99" y="638.8" class="tk" text-anchor="middle">RNARedPrint</text>
<text x="183.5" y="648.2" class="al" text-anchor="middle">Algorithm</text>
<text transform="translate(10.5 479.8) rotate(-90)" class="al" text-anchor="middle">Normalized RNAdistance (less is better)</text>
<text x="-0.4" y="637.8" class="lt">C</text>
<path d="M406.02 427.3 406.02 544.9 406.08 547.3 406.23 549.7 406.52 551.7 407.04 554.5 407.3 555.3 407.55 555.7 407.9 556.1 408.77 556.9 411.79 559.3 418.65 564.1 419.67 564.9 420.47 565.7 422.01 567.7 422.42 568.5 422.57 569.3 422.41 570.5 421.99 571.7 421.42 572.9 420.77 573.7 419.26 574.9 412.03 580.1 409.33 581.7 408.79 582.1 408.41 582.5 408.25 582.9 408.17 583.5 403.87 583.5 403.79 582.9 403.63 582.5 403.26 582.1 402.71 581.7 400.01 580.1 392.78 574.9 391.28 573.7 390.62 572.9 390.06 571.7 389.64 570.5 389.47 569.3 389.62 568.5 390.03 567.7 391.57 565.7 392.37 564.9 393.4 564.1 400.25 559.3 403.27 556.9 404.14 556.1 404.49 555.7 404.75 555.3 405 554.5 405.52 551.7 405.81 549.7 405.96 547.3 406.02 544.9 406.02 427.3Z" fill="#18a7a7" stroke="#262626" stroke-width="1.1" stroke-linejoin="round"/>
<rect x="404.17" y="569.85" width="3.7" height="1.3" fill="#ffffff"/>
<path d="M448.86 463.1 448.92 500.7 449.01 505.9 449.22 511.9 449.45 515.1 449.72 517.1 450.73 521.5 451.55 524.7 452.05 527.1 452.3 528.7 452.52 531.5 452.61 533.9 452.58 535.5 452.33 539.9 452.32 541.1 452.4 541.9 452.93 544.3 453.7 546.3 454.28 547.5 455.66 549.9 458.06 553.5 461 558.3 462.08 560.3 464.18 564.7 464.59 565.9 464.82 567.1 465.05 568.7 465.11 569.9 464.98 571.1 464.48 572.7 464.04 573.5 463.42 574.3 462.32 575.5 461.39 576.3 455.99 580.3 454.13 581.9 452.5 583.5 451.8 584.3 451.37 585.1 451.11 585.9 446.61 585.9 446.36 585.1 445.93 584.3 445.23 583.5 443.59 581.9 441.74 580.3 436.33 576.3 435.41 575.5 434.31 574.3 433.69 573.5 433.25 572.7 432.75 571.1 432.61 569.9 432.68 568.7 432.91 567.1 433.14 565.9 433.55 564.7 435.65 560.3 436.73 558.3 439.67 553.5 442.07 549.9 443.45 547.5 444.03 546.3 444.8 544.3 445.32 541.9 445.41 541.1 445.4 539.9 445.14 535.5 445.12 533.9 445.21 531.5 445.43 528.7 445.68 527.1 446.18 524.7 447 521.5 448 517.1 448.28 515.1 448.51 511.9 448.72 505.9 448.81 500.7 448.86 463.1Z" fill="#107010" stroke="#262626" stroke-width="1.1" stroke-linejoin="round"/>
<line x1="448.86" y1="530.2" x2="448.86" y2="572" stroke="#262626" stroke-width="1.3"/>
<rect x="446.61" y="551.4" width="4.5" height="20.6" fill="#262626"/>
<rect x="447.01" y="569.65" width="3.7" height="1.3" fill="#ffffff"/>
<path d="M491.71 414.6 491.78 424.6 491.98 435.8 492.88 453.8 493.08 456.2 493.24 457.4 494.28 462.6 495.15 467.4 495.51 469.8 496.02 475 496.15 481 496.09 484.6 495.59 490.2 494.73 496.2 493.29 505 492.98 507.8 492.71 511.8 492.47 517.8 492.48 520.2 492.67 522.6 493.06 525.8 493.44 528.2 494.06 531 494.52 532.6 495.33 534.6 497.55 539.4 504.28 552.6 505.57 555.4 506.69 558.6 507.35 561 508.09 565 508.29 566.6 508.35 567.8 508.33 569 508.23 570.2 507.72 573.4 507.38 574.6 506.73 576.2 504.65 580.6 502.08 585.4 500.94 587.4 499.92 589 497.77 591.8 496.04 594.2 494.76 596.2 494 597.8 493.57 599 493.34 600.2 493.26 601.1 490.16 601.1 490.07 600.2 489.84 599 489.41 597.8 488.66 596.2 487.38 594.2 485.65 591.8 483.5 589 482.47 587.4 481.33 585.4 478.77 580.6 476.69 576.2 476.04 574.6 475.7 573.4 475.19 570.2 475.08 569 475.06 567.8 475.13 566.6 475.33 565 476.06 561 476.73 558.6 477.85 555.4 479.13 552.6 485.87 539.4 488.09 534.6 488.89 532.6 489.36 531 489.97 528.2 490.36 525.8 490.74 522.6 490.93 520.2 490.94 517.8 490.7 511.8 490.44 507.8 490.12 505 488.68 496.2 487.83 490.2 487.33 484.6 487.26 481 487.4 475 487.9 469.8 488.26 467.4 489.13 462.6 490.17 457.4 490.34 456.2 490.54 453.8 491.44 435.8 491.64 424.6 491.71 414.6Z" fill="#a7a718" stroke="#262626" stroke-width="1.1" stroke-linejoin="round"/>
<rect x="489.46" y="545.7" width="4.5" height="26.1" fill="#262626"/>
<rect x="489.86" y="569.85" width="3.7" height="1.3" fill="#ffffff"/>
<path d="M534.55 384.7 534.7 430.3 535.28 466.7 535.5 514.7 535.65 519.1 535.94 523.5 536.21 525.9 536.53 527.5 537.76 531.5 538.65 533.9 540.25 537.5 543.04 542.3 545.5 547.1 547.21 551.1 548.78 555.5 549.74 558.7 550.41 561.9 550.65 563.5 550.84 565.5 551 568.3 550.87 570.3 550.29 573.5 549.64 575.5 548.54 577.9 547.79 579.1 546.61 580.7 545.05 582.7 542 586.3 537.75 591.9 537.06 593.1 536.75 593.9 536.5 594.8 532.6 594.8 532.35 593.9 532.04 593.1 531.35 591.9 527.1 586.3 524.05 582.7 522.49 580.7 521.31 579.1 520.56 577.9 519.46 575.5 518.81 573.5 518.23 570.3 518.1 568.3 518.26 565.5 518.45 563.5 518.69 561.9 519.36 558.7 520.32 555.5 521.89 551.1 523.6 547.1 526.06 542.3 528.85 537.5 530.45 533.9 531.34 531.5 532.57 527.5 532.89 525.9 533.16 523.5 533.45 519.1 533.6 514.7 533.82 466.7 534.4 430.3 534.55 384.7Z" fill="#a718a7" stroke="#262626" stroke-width="1.1" stroke-linejoin="round"/>
<line x1="534.55" y1="539.2" x2="534.55" y2="572.3" stroke="#262626" stroke-width="1.3"/>
<rect x="532.3" y="555.9" width="4.5" height="16.4" fill="#262626"/>
<rect x="532.7" y="569.95" width="3.7" height="1.3" fill="#ffffff"/>
<path d="M577.39 344.5 577.51 356.5 577.89 371.3 579.08 395.7 580.09 411.7 580.34 421.7 580.31 426.1 580.11 432.9 579.88 437.3 579.06 449.7 578.78 456.9 578.54 466.5 578.36 476.1 578.24 488.9 578.3 501.7 578.35 505.3 578.44 506.9 578.88 511.3 579.24 514.1 579.73 516.9 580.17 518.5 581.27 521.7 583.13 526.5 587.22 536.1 589.6 542.1 590.74 545.3 591.59 548.1 592.58 552.5 593.69 558.9 593.92 561.3 594.04 564.1 594.01 565.7 593.85 568.1 593.56 570.5 592.98 573.3 592.08 576.1 591.45 577.7 590.15 580.5 585.36 590.1 583.29 594.5 581.67 598.5 580.32 602.5 579.85 604.5 579.37 607.7 579.07 611.3 578.94 615.2 575.84 615.2 575.71 611.3 575.41 607.7 574.94 604.5 574.46 602.5 573.12 598.5 571.5 594.5 569.43 590.1 564.63 580.5 563.34 577.7 562.71 576.1 561.8 573.3 561.23 570.5 560.94 568.1 560.78 565.7 560.74 564.1 560.86 561.3 561.09 558.9 562.2 552.5 563.2 548.1 564.04 545.3 565.18 542.1 567.57 536.1 571.66 526.5 573.52 521.7 574.61 518.5 575.06 516.9 575.55 514.1 575.91 511.3 576.35 506.9 576.44 505.3 576.48 501.7 576.54 488.9 576.42 476.1 576.25 466.5 576 456.9 575.73 449.7 574.91 437.3 574.67 432.9 574.48 426.1 574.45 421.7 574.7 411.7 575.71 395.7 576.9 371.3 577.27 356.5 577.39 344.5Z" fill="#2020df" stroke="#262626" stroke-width="1.1" stroke-linejoin="round"/>
<line x1="577.39" y1="531.6" x2="577.39" y2="571.5" stroke="#262626" stroke-width="1.3"/>
<rect x="575.14" y="546.3" width="4.5" height="25.2" fill="#262626"/>
<rect x="575.54" y="569.95" width="3.7" height="1.3" fill="#ffffff"/>
<path d="M620.24 540.4 620.32 545.6 621.09 552 621.24 552.8 621.49 553.6 622.09 554.8 622.79 556 623.15 556.8 623.41 557.6 623.56 558.4 623.57 559.2 623.49 560 623.19 561.2 623.23 561.6 623.58 562.4 624.09 563.2 624.46 563.6 624.91 564 625.56 564.4 634.75 568.8 636.06 569.6 636.55 570 636.66 570.4 636.19 570.8 635.51 571.2 633.5 572 623.94 574.8 622.89 575.2 622.49 575.5 617.99 575.5 617.59 575.2 616.53 574.8 606.97 572 604.96 571.2 604.28 570.8 603.81 570.4 603.92 570 604.41 569.6 605.72 568.8 614.91 564.4 615.56 564 616.01 563.6 616.38 563.2 616.89 562.4 617.25 561.6 617.28 561.2 616.99 560 616.9 559.2 616.91 558.4 617.06 557.6 617.32 556.8 617.69 556 618.39 554.8 618.98 553.6 619.23 552.8 619.38 552 620.16 545.6 620.24 540.4Z" fill="#dfdf20" stroke="#262626" stroke-width="1.1" stroke-linejoin="round"/>
<line x1="620.24" y1="557.2" x2="620.24" y2="572.3" stroke="#262626" stroke-width="1.3"/>
<rect x="617.99" y="562.3" width="4.5" height="10" fill="#262626"/>
<rect x="618.39" y="569.65" width="3.7" height="1.3" fill="#ffffff"/>
<path d="M663.08 349.9 663.22 363.5 663.28 388.7 663.33 495.5 663.66 508.3 663.88 513.1 664.11 515.1 665.32 523.5 666.91 537.1 667.31 539.5 667.8 541.5 668.07 542.3 668.59 543.5 669.78 545.9 670.66 547.5 671.64 549.1 675.45 554.7 676.58 556.7 677.38 558.3 678.44 560.7 679.09 562.7 679.78 565.9 679.93 567.5 679.82 568.7 679.4 570.7 678.94 571.9 677.97 573.9 676.23 576.7 670.96 583.5 667.6 588.3 666.34 590.3 665.89 591.1 665.56 591.9 665.17 593.5 665.03 594.8 661.13 594.8 660.99 593.5 660.6 591.9 660.27 591.1 659.81 590.3 658.55 588.3 655.2 583.5 649.93 576.7 648.19 573.9 647.22 571.9 646.76 570.7 646.34 568.7 646.23 567.5 646.38 565.9 647.07 562.7 647.72 560.7 648.78 558.3 649.57 556.7 650.71 554.7 654.52 549.1 655.5 547.5 656.38 545.9 657.57 543.5 658.09 542.3 658.36 541.5 658.84 539.5 659.24 537.1 660.84 523.5 662.05 515.1 662.28 513.1 662.5 508.3 662.83 495.5 662.88 388.7 662.93 363.5 663.08 349.9Z" fill="#df2020" stroke="#262626" stroke-width="1.1" stroke-linejoin="round"/>
<line x1="663.08" y1="545" x2="663.08" y2="572.4" stroke="#262626" stroke-width="1.3"/>
<rect x="660.83" y="556.2" width="4.5" height="16.2" fill="#262626"/>
<rect x="661.23" y="569.85" width="3.7" height="1.3" fill="#ffffff"/>
<rect x="384.6" y="331.2" width="299.9" height="297.1" fill="none" stroke="#3a3a3a" stroke-width="1.1"/>
<line x1="381.8" y1="604.29" x2="384.6" y2="604.29" stroke="#222" stroke-width="1.1"/>
<text x="379.3" y="607.09" class="tk" text-anchor="end">−0.2</text>
<line x1="381.8" y1="570.5" x2="384.6" y2="570.5" stroke="#222" stroke-width="1.1"/>
<text x="379.3" y="573.3" class="tk" text-anchor="end">0.0</text>
<line x1="381.8" y1="536.71" x2="384.6" y2="536.71" stroke="#222" stroke-width="1.1"/>
<text x="379.3" y="539.51" class="tk" text-anchor="end">0.2</text>
<line x1="381.8" y1="502.92" x2="384.6" y2="502.92" stroke="#222" stroke-width="1.1"/>
<text x="379.3" y="505.72" class="tk" text-anchor="end">0.4</text>
<line x1="381.8" y1="469.13" x2="384.6" y2="469.13" stroke="#222" stroke-width="1.1"/>
<text x="379.3" y="471.93" class="tk" text-anchor="end">0.6</text>
<line x1="381.8" y1="435.34" x2="384.6" y2="435.34" stroke="#222" stroke-width="1.1"/>
<text x="379.3" y="438.14" class="tk" text-anchor="end">0.8</text>
<line x1="381.8" y1="401.55" x2="384.6" y2="401.55" stroke="#222" stroke-width="1.1"/>
<text x="379.3" y="404.35" class="tk" text-anchor="end">1.0</text>
<line x1="381.8" y1="367.76" x2="384.6" y2="367.76" stroke="#222" stroke-width="1.1"/>
<text x="379.3" y="370.56" class="tk" text-anchor="end">1.2</text>
<line x1="381.8" y1="333.97" x2="384.6" y2="333.97" stroke="#222" stroke-width="1.1"/>
<text x="379.3" y="336.77" class="tk" text-anchor="end">1.4</text>
<line x1="406.02" y1="628.3" x2="406.02" y2="630.9" stroke="#222" stroke-width="1.0"/>
<text x="406.02" y="638.7" class="tk" text-anchor="middle">DesiRNA</text>
<line x1="448.86" y1="628.3" x2="448.86" y2="630.9" stroke="#222" stroke-width="1.0"/>
<text x="448.86" y="638.7" class="tk" text-anchor="middle">RNAinverse</text>
<line x1="491.71" y1="628.3" x2="491.71" y2="630.9" stroke="#222" stroke-width="1.0"/>
<text x="491.71" y="638.7" class="tk" text-anchor="middle">DSS-Opt</text>
<line x1="534.55" y1="628.3" x2="534.55" y2="630.9" stroke="#222" stroke-width="1.0"/>
<text x="534.55" y="638.7" class="tk" text-anchor="middle">INFO-RNA</text>
<line x1="577.39" y1="628.3" x2="577.39" y2="630.9" stroke="#222" stroke-width="1.0"/>
<text x="577.39" y="638.7" class="tk" text-anchor="middle">RNAfbinv</text>
<line x1="620.24" y1="628.3" x2="620.24" y2="630.9" stroke="#222" stroke-width="1.0"/>
<text x="620.24" y="638.7" class="tk" text-anchor="middle">MetaLRNA</text>
<line x1="663.08" y1="628.3" x2="663.08" y2="630.9" stroke="#222" stroke-width="1.0"/>
<text x="663.08" y="638.7" class="tk" text-anchor="middle">RNARedPrint</text>
<text x="534.55" y="648.1" class="al" text-anchor="middle">Algorithm</text>
<text transform="translate(361.5 479.75) rotate(-90)" class="al" text-anchor="middle">Normalized RNAdistance (less is better)</text>
<text x="350.8" y="637.6" class="lt">D</text>
<path d="M54.92 761.6 54.92 880 55 883.6 55.17 886 55.42 887.6 55.7 888.8 56.03 889.6 56.34 890 57.24 890.8 59.47 892.4 66.65 896.4 68.93 898 69.88 898.8 70.25 899.2 70.8 900 71.48 901.2 71.74 902 71.77 902.4 71.64 903.2 71.29 904 70.54 905.2 70.22 905.6 69.77 906 68.57 906.8 65.83 908.4 60.31 912 58.3 913.2 57.76 913.6 57.4 914 57.26 914.4 57.17 915.3 52.67 915.3 52.59 914.4 52.45 914 52.08 913.6 51.55 913.2 49.53 912 44.02 908.4 41.27 906.8 40.07 906 39.62 905.6 39.3 905.2 38.55 904 38.2 903.2 38.07 902.4 38.11 902 38.36 901.2 39.04 900 39.59 899.2 39.97 898.8 40.91 898 43.19 896.4 50.38 892.4 52.6 890.8 53.5 890 53.81 889.6 54.14 888.8 54.42 887.6 54.68 886 54.84 883.6 54.92 880 54.92 761.6Z" fill="#18a7a7" stroke="#262626" stroke-width="1.1" stroke-linejoin="round"/>
<rect x="53.07" y="901.95" width="3.7" height="1.3" fill="#ffffff"/>
<path d="M97.76 778.1 97.82 825.3 98.19 839.3 98.27 840.5 98.47 842.1 100.18 852.1 101.71 862.5 101.99 866.5 102.02 871.7 102.08 872.5 102.3 873.7 102.81 875.7 103.25 876.9 104.15 878.9 105.98 882.1 109.32 887.3 110.78 889.7 111.66 891.3 112.59 893.3 113.31 895.3 113.87 897.3 114.24 899.7 114.41 901.7 114.38 902.5 114.09 903.7 113.38 905.3 112.69 906.5 111.97 907.3 109.47 909.7 103.13 915.3 101.9 916.5 100.92 917.7 100.41 918.5 99.86 919.7 99.71 920.6 95.81 920.6 95.66 919.7 95.11 918.5 94.6 917.7 93.63 916.5 92.39 915.3 86.05 909.7 83.56 907.3 82.84 906.5 82.15 905.3 81.44 903.7 81.15 902.5 81.12 901.7 81.28 899.7 81.66 897.3 82.22 895.3 82.94 893.3 83.86 891.3 84.75 889.7 86.21 887.3 89.55 882.1 91.38 878.9 92.28 876.9 92.72 875.7 93.23 873.7 93.45 872.5 93.51 871.7 93.54 866.5 93.82 862.5 95.35 852.1 97.06 842.1 97.26 840.5 97.34 839.3 97.71 825.3 97.76 778.1Z" fill="#107010" stroke="#262626" stroke-width="1.1" stroke-linejoin="round"/>
<line x1="97.76" y1="853" x2="97.76" y2="904.7" stroke="#262626" stroke-width="1.3"/>
<rect x="95.51" y="881.1" width="4.5" height="23.6" fill="#262626"/>
<rect x="95.91" y="902.05" width="3.7" height="1.3" fill="#ffffff"/>
<path d="M140.61 748.2 140.67 756.2 140.87 765.4 141.56 779.4 141.88 783 142.7 788.6 143.71 796.6 144.18 803.4 144.46 809.4 144.55 812.6 144.45 817 143.87 825 143.25 830.6 141.69 842.2 141.4 845 141.29 849 141.26 852.6 141.37 855 141.66 858.2 141.97 859.8 142.85 862.6 143.44 864.2 144.44 866.6 145.78 869.4 152.53 882.6 153.83 885.4 154.66 887.4 155.58 890.2 156.28 893 157 897 157.16 899 157.01 901.4 156.46 905.4 155.85 908.2 155.49 909.4 155.17 910.2 154.06 912.2 151.6 916.2 150.02 918.6 148.86 920.2 144.47 925.8 143.67 927 142.92 928.6 142.5 929.8 142.24 931.4 142.16 932.7 139.06 932.7 138.97 931.4 138.71 929.8 138.3 928.6 137.55 927 136.74 925.8 132.35 920.2 131.2 918.6 129.62 916.2 127.15 912.2 126.04 910.2 125.72 909.4 125.37 908.2 124.76 905.4 124.2 901.4 124.06 899 124.21 897 124.93 893 125.63 890.2 126.55 887.4 127.39 885.4 128.68 882.6 135.43 869.4 136.77 866.6 137.77 864.2 138.36 862.6 139.24 859.8 139.56 858.2 139.85 855 139.95 852.6 139.93 849 139.81 845 139.53 842.2 137.96 830.6 137.35 825 136.77 817 136.66 812.6 136.75 809.4 137.04 803.4 137.5 796.6 138.51 788.6 139.33 783 139.65 779.4 140.35 765.4 140.54 756.2 140.61 748.2Z" fill="#a7a718" stroke="#262626" stroke-width="1.1" stroke-linejoin="round"/>
<line x1="140.61" y1="866.4" x2="140.61" y2="904.1" stroke="#262626" stroke-width="1.3"/>
<rect x="138.36" y="877.6" width="4.5" height="26.5" fill="#262626"/>
<rect x="138.76" y="902.05" width="3.7" height="1.3" fill="#ffffff"/>
<path d="M183.45 715.4 183.53 772.6 184.59 813 184.94 839.4 185.41 850.2 185.78 855.8 186.18 859 187.04 863.8 187.94 867.8 188.86 871 190.71 876.6 191.69 879 195.72 885.8 196.97 887.8 197.41 888.6 197.93 889.8 198.75 892.2 199.51 895 199.96 897.8 200.1 899.8 199.92 901.4 199.31 904.2 198.8 905.8 198.1 907.4 193.7 913.8 189.38 919 186.99 922.2 186.08 923.8 185.55 925 185.25 926.2 185.1 927.3 181.8 927.3 181.65 926.2 181.35 925 180.82 923.8 179.91 922.2 177.52 919 173.2 913.8 168.8 907.4 168.1 905.8 167.59 904.2 166.98 901.4 166.8 899.8 166.94 897.8 167.39 895 168.15 892.2 168.97 889.8 169.49 888.6 169.93 887.8 171.18 885.8 175.21 879 176.19 876.6 178.04 871 178.96 867.8 179.86 863.8 180.72 859 181.12 855.8 181.49 850.2 181.96 839.4 182.31 813 183.37 772.6 183.45 715.4Z" fill="#a718a7" stroke="#262626" stroke-width="1.1" stroke-linejoin="round"/>
<line x1="183.45" y1="856.3" x2="183.45" y2="904.6" stroke="#262626" stroke-width="1.3"/>
<rect x="181.2" y="882.1" width="4.5" height="22.5" fill="#262626"/>
<rect x="181.6" y="902.35" width="3.7" height="1.3" fill="#ffffff"/>
<path d="M226.29 679.5 226.36 701.1 226.74 710.3 227.17 723.5 227.4 727.1 228.73 739.9 229.37 747.5 229.64 751.9 229.93 760.3 229.91 766.3 229.79 773.1 228.9 789.9 228.19 805.5 228 812.3 227.94 816.3 227.95 827.5 228.05 832.3 228.21 836.3 228.51 839.1 229.2 844.3 229.68 847.1 230.32 849.9 231.21 853.1 232.34 856.7 237.59 870.7 239.06 875.1 240.28 879.1 241.52 883.9 242.2 887.1 242.94 892.3 243.09 893.9 243.14 895.5 242.99 898.7 242.41 903.5 241.82 906.3 240.78 909.9 240.21 911.5 239.35 913.5 230.97 931.5 228.56 937.5 228.03 939.1 227.69 940.7 227.42 943.9 227.34 946.3 225.24 946.3 225.17 943.9 224.9 940.7 224.55 939.1 224.02 937.5 221.61 931.5 213.23 913.5 212.38 911.5 211.81 909.9 210.77 906.3 210.17 903.5 209.6 898.7 209.44 895.5 209.5 893.9 209.64 892.3 210.39 887.1 211.07 883.9 212.31 879.1 213.53 875.1 215 870.7 220.25 856.7 221.38 853.1 222.27 849.9 222.9 847.1 223.39 844.3 224.08 839.1 224.37 836.3 224.54 832.3 224.64 827.5 224.64 816.3 224.59 812.3 224.39 805.5 223.69 789.9 222.8 773.1 222.67 766.3 222.65 760.3 222.95 751.9 223.22 747.5 223.86 739.9 225.19 727.1 225.42 723.5 225.85 710.3 226.23 701.1 226.29 679.5Z" fill="#2020df" stroke="#262626" stroke-width="1.1" stroke-linejoin="round"/>
<line x1="226.29" y1="749.3" x2="226.29" y2="904.6" stroke="#262626" stroke-width="1.3"/>
<rect x="224.04" y="839" width="4.5" height="65.6" fill="#262626"/>
<rect x="224.44" y="890.55" width="3.7" height="1.3" fill="#ffffff"/>
<path d="M269.14 865.7 269.29 870.1 269.96 876.5 270.79 879.3 271.43 882.5 271.65 883.3 273.64 886.9 274.26 888.5 274.46 889.3 274.58 890.1 274.39 893.3 274.42 893.7 274.57 894.1 275.29 895.3 275.63 895.7 276.96 896.9 280.14 898.9 285.1 901.7 285.71 902.1 285.86 902.5 285.37 902.9 281.7 904.5 273.84 907.3 272.15 908.1 271.59 908.5 271.27 908.9 271.19 909.1 267.09 909.1 267 908.9 266.69 908.5 266.12 908.1 264.43 907.3 256.57 904.5 252.9 902.9 252.41 902.5 252.56 902.1 253.17 901.7 258.13 898.9 261.31 896.9 262.64 895.7 262.98 895.3 263.7 894.1 263.85 893.7 263.88 893.3 263.69 890.1 263.81 889.3 264.01 888.5 264.63 886.9 266.62 883.3 266.84 882.5 267.49 879.3 268.32 876.5 268.98 870.1 269.14 865.7Z" fill="#dfdf20" stroke="#262626" stroke-width="1.1" stroke-linejoin="round"/>
<line x1="269.14" y1="877" x2="269.14" y2="904.6" stroke="#262626" stroke-width="1.3"/>
<rect x="266.89" y="888.9" width="4.5" height="15.7" fill="#262626"/>
<rect x="267.29" y="902.05" width="3.7" height="1.3" fill="#ffffff"/>
<path d="M311.98 674.7 311.98 720.3 312.05 727.5 312.35 738.3 312.91 744.7 313.23 749.5 313.33 752.3 313.32 772.7 313.13 788.3 313.14 808.7 314.04 828.3 314.62 837.9 315.09 843.5 315.55 847.9 316.12 851.9 316.72 855.1 318.32 861.1 319.07 863.5 324.95 878.3 325.8 880.7 326.54 883.1 327.4 886.7 327.87 889.5 328.19 892.3 328.43 896.7 328.31 899.1 327.87 902.3 327.29 904.7 326.52 907.1 324.96 910.7 323.29 913.9 316.84 924.7 314.6 928.7 314.13 929.9 313.76 931.5 313.62 932.7 313.53 934.9 310.43 934.9 310.34 932.7 310.2 931.5 309.83 929.9 309.36 928.7 307.12 924.7 300.66 913.9 299 910.7 297.44 907.1 296.67 904.7 296.09 902.3 295.65 899.1 295.53 896.7 295.77 892.3 296.08 889.5 296.55 886.7 297.42 883.1 298.16 880.7 299.01 878.3 304.89 863.5 305.63 861.1 307.23 855.1 307.84 851.9 308.4 847.9 308.86 843.5 309.33 837.9 309.91 828.3 310.82 808.7 310.83 788.3 310.63 772.7 310.63 752.3 310.73 749.5 311.05 744.7 311.61 738.3 311.91 727.5 311.98 720.3 311.98 674.7Z" fill="#df2020" stroke="#262626" stroke-width="1.1" stroke-linejoin="round"/>
<line x1="311.98" y1="813.6" x2="311.98" y2="904.5" stroke="#262626" stroke-width="1.3"/>
<rect x="309.73" y="864.9" width="4.5" height="39.6" fill="#262626"/>
<rect x="310.13" y="901.85" width="3.7" height="1.3" fill="#ffffff"/>
<rect x="33.5" y="661.5" width="299.9" height="297.4" fill="none" stroke="#3a3a3a" stroke-width="1.1"/>
<line x1="30.7" y1="936.43" x2="33.5" y2="936.43" stroke="#222" stroke-width="1.1"/>
<text x="28.2" y="939.23" class="tk" text-anchor="end">−0.2</text>
<line x1="30.7" y1="902.7" x2="33.5" y2="902.7" stroke="#222" stroke-width="1.1"/>
<text x="28.2" y="905.5" class="tk" text-anchor="end">0.0</text>
<line x1="30.7" y1="868.97" x2="33.5" y2="868.97" stroke="#222" stroke-width="1.1"/>
<text x="28.2" y="871.77" class="tk" text-anchor="end">0.2</text>
<line x1="30.7" y1="835.24" x2="33.5" y2="835.24" stroke="#222" stroke-width="1.1"/>
<text x="28.2" y="838.04" class="tk" text-anchor="end">0.4</text>
<line x1="30.7" y1="801.51" x2="33.5" y2="801.51" stroke="#222" stroke-width="1.1"/>
<text x="28.2" y="804.31" class="tk" text-anchor="end">0.6</text>
<line x1="30.7" y1="767.78" x2="33.5" y2="767.78" stroke="#222" stroke-width="1.1"/>
<text x="28.2" y="770.58" class="tk" text-anchor="end">0.8</text>
<line x1="30.7" y1="734.05" x2="33.5" y2="734.05" stroke="#222" stroke-width="1.1"/>
<text x="28.2" y="736.85" class="tk" text-anchor="end">1.0</text>
<line x1="30.7" y1="700.32" x2="33.5" y2="700.32" stroke="#222" stroke-width="1.1"/>
<text x="28.2" y="703.12" class="tk" text-anchor="end">1.2</text>
<line x1="30.7" y1="666.59" x2="33.5" y2="666.59" stroke="#222" stroke-width="1.1"/>
<text x="28.2" y="669.39" class="tk" text-anchor="end">1.4</text>
<line x1="54.92" y1="958.9" x2="54.92" y2="961.5" stroke="#222" stroke-width="1.0"/>
<text x="54.92" y="969.3" class="tk" text-anchor="middle">DesiRNA</text>
<line x1="97.76" y1="958.9" x2="97.76" y2="961.5" stroke="#222" stroke-width="1.0"/>
<text x="97.76" y="969.3" class="tk" text-anchor="middle">RNAinverse</text>
<line x1="140.61" y1="958.9" x2="140.61" y2="961.5" stroke="#222" stroke-width="1.0"/>
<text x="140.61" y="969.3" class="tk" text-anchor="middle">DSS-Opt</text>
<line x1="183.45" y1="958.9" x2="183.45" y2="961.5" stroke="#222" stroke-width="1.0"/>
<text x="183.45" y="969.3" class="tk" text-anchor="middle">INFO-RNA</text>
<line x1="226.29" y1="958.9" x2="226.29" y2="961.5" stroke="#222" stroke-width="1.0"/>
<text x="226.29" y="969.3" class="tk" text-anchor="middle">RNAfbinv</text>
<line x1="269.14" y1="958.9" x2="269.14" y2="961.5" stroke="#222" stroke-width="1.0"/>
<text x="269.14" y="969.3" class="tk" text-anchor="middle">MetaLRNA</text>
<line x1="311.98" y1="958.9" x2="311.98" y2="961.5" stroke="#222" stroke-width="1.0"/>
<text x="311.98" y="969.3" class="tk" text-anchor="middle">RNARedPrint</text>
<text x="183.45" y="978.7" class="al" text-anchor="middle">Algorithm</text>
<text transform="translate(10.4 810.2) rotate(-90)" class="al" text-anchor="middle">Normalized RNAdistance (less is better)</text>
<text x="-0.3" y="968" class="lt">E</text>
</svg></body></html>
